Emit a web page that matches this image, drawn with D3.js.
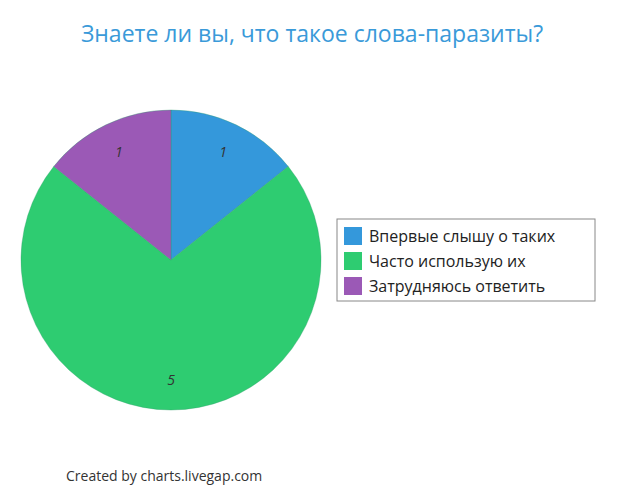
<!DOCTYPE html>
<html><head><meta charset="utf-8">
<script src="https://cdn.jsdelivr.net/npm/d3@7"></script>
<style>body{margin:0;background:#fff}text{font-family:"Open Sans",sans-serif}</style>
</head><body><svg id="c" width="625" height="500"></svg>
<script>
const categories = ["Впервые слышу о таких","Часто использую их","Затрудняюсь ответить"];
const values = [1,5,1];
const colors = ["#3498db","#2ecc71","#9b59b6"];
const svg = d3.select("#c");
svg.append("text").attr("x",312).attr("y",42).attr("text-anchor","middle")
  .attr("font-size",23).attr("fill","#3a9ad9").text("Знаете ли вы, что такое слова-паразиты?");
const cx=171, cy=260, r=150;
const arcs = d3.pie().sort(null)(values);
const arc = d3.arc().innerRadius(0).outerRadius(r);
const lab = d3.arc().innerRadius(r*0.8).outerRadius(r*0.8);
const g = svg.append("g").attr("transform",`translate(${cx},${cy})`);
g.selectAll("path").data(arcs).join("path").attr("d",arc)
  .attr("fill",(d,i)=>colors[i]).attr("stroke","#2e9e6a").attr("stroke-opacity",0.35).attr("stroke-width",1);
g.selectAll("text").data(arcs).join("text")
  .attr("transform",d=>`translate(${lab.centroid(d)})`)
  .attr("text-anchor","middle").attr("dy","0.35em").attr("font-size",14)
  .attr("font-style","italic").attr("fill","#333").text(d=>d.data);
const lg = svg.append("g").attr("transform","translate(337,219)");
lg.append("rect").attr("width",258).attr("height",82).attr("fill","#fff").attr("stroke","#888");
categories.forEach((c,i)=>{
  lg.append("rect").attr("x",7).attr("y",8+i*25).attr("width",18).attr("height",18).attr("fill",colors[i]);
  lg.append("text").attr("x",32).attr("y",23+i*25).attr("font-size",16).attr("fill","#222").text(c);
});
svg.append("text").attr("x",66).attr("y",481).attr("font-size",14).attr("fill","#333").text("Created by charts.livegap.com");
</script></body></html>
